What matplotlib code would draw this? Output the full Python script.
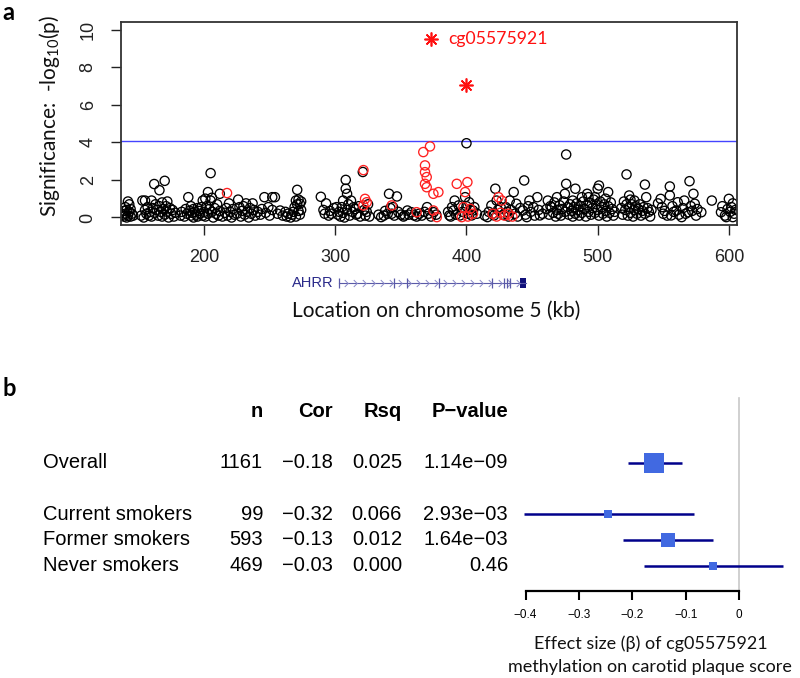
import numpy as np
import matplotlib
matplotlib.use("Agg")
import matplotlib.pyplot as plt
from matplotlib.path import Path

plt.rcParams['font.family'] = ['Liberation Sans', 'DejaVu Sans']
plt.rcParams['mathtext.fontset'] = 'custom'
plt.rcParams['mathtext.rm'] = 'Lato'
plt.rcParams['mathtext.it'] = 'Lato:italic'

# ---- panel a: regional association (kb, -log10 p) ----
black_pts = [
    (138, 0.15), (139, 0.35), (139, 0.05), (140, 0.55), (140, 0.2), (141, 0.0), (141, 0.4), (142, 0.85),
    (142, 0.1), (143, 0.7), (143, 0.3), (144, 0.05), (144, 0.45), (145, 0.2), (146, 0.1),
    (152, 0.1), (153, 0.9), (154, 0.0), (155, 0.4), (155, 0.9), (156, 0.2), (157, 0.55), (158, 0.1),
    (159, 0.3), (160, 0.9), (160, 0.05), (161, 0.5), (162, 1.78), (162, 0.25), (163, 0.7), (164, 0.4),
    (165, 0.1), (166, 1.45), (166, 0.6), (167, 0.3), (168, 0.05), (168, 0.8), (169, 0.45), (170, 1.95),
    (170, 0.15), (171, 0.6), (172, 0.85), (172, 0.3), (173, 0.0), (174, 0.5), (175, 0.2), (176, 0.4),
    (177, 0.05), (178, 0.25),
    (182, 0.1), (183, 0.3), (185, 0.05), (186, 0.45), (187, 0.2), (188, 1.08), (189, 0.35), (190, 0.1),
    (190, 0.6), (191, 0.25), (192, 0.45), (192, 0.0), (193, 0.3), (194, 0.15), (195, 0.5), (195, 0.05),
    (196, 0.35), (197, 0.2), (198, 0.55), (199, 0.9), (199, 0.1),
    (200, 0.3), (201, 1.0), (201, 0.05), (202, 0.6), (203, 1.35), (203, 0.2), (204, 0.45), (205, 2.36),
    (205, 0.9), (206, 1.05), (206, 0.3), (207, 0.0), (208, 0.5), (209, 0.2), (210, 0.7), (211, 0.1),
    (212, 1.26), (212, 0.35), (214, 0.05),
    (216, 0.25), (217, 0.5), (218, 0.1), (219, 0.75), (220, 0.3), (221, 0.0), (222, 0.45), (223, 0.15),
    (225, 0.2), (226, 0.95), (227, 0.55), (228, 0.05), (229, 0.35), (230, 0.6), (231, 0.15), (232, 0.75),
    (233, 0.3), (234, 0.0), (235, 0.5), (236, 0.2), (237, 0.75), (238, 0.4), (239, 0.1), (241, 0.3),
    (243, 0.15), (244, 0.45), (246, 1.08), (247, 0.25), (249, 0.55), (250, 0.1), (252, 1.08), (252, 0.4),
    (254, 1.08),
    (256, 0.2), (258, 0.37), (260, 0.1), (262, 0.3), (263, 0.05), (264, 0.2), (266, 0.0), (267, 0.15),
    (268, 0.3), (269, 0.55), (270, 0.05), (270, 0.9), (271, 1.47), (271, 0.7), (272, 0.35), (272, 0.95),
    (273, 0.73), (273, 0.15), (274, 0.85), (274, 0.4),
    (289, 1.1), (291, 0.4), (292, 0.2), (293, 0.75), (295, 0.1), (296, 0.35), (297, 0.2), (299, 0.5),
    (301, 0.55), (302, 0.15), (303, 0.3), (304, 0.05), (305, 0.55), (306, 0.9), (306, 0.25), (307, 0.0),
    (308, 2.0), (308, 1.53), (309, 1.26), (309, 0.4), (310, 0.7), (311, 0.1), (312, 0.9), (313, 0.3),
    (314, 0.55), (315, 0.45), (316, 0.15), (317, 0.2), (318, 0.6), (319, 0.05),
    (321, 2.42), (322, 0.4), (323, 0.1), (324, 0.3), (325, 0.7), (326, 0.05),
    (333, 0.15), (335, 0.02), (337, 0.1), (338, 0.35), (340, 0.2), (341, 1.26), (342, 0.5), (343, 0.2),
    (344, 0.55), (345, 0.1), (347, 1.12), (348, 0.3), (350, 0.15), (352, 0.05), (353, 0.11), (355, 0.37),
    (356, 0.15), (358, 0.28), (360, 0.11), (362, 0.05), (364, 0.2), (366, 0.1), (368, 0.3), (370, 0.55),
    (371, 0.2), (373, 0.05), (375, 0.28), (377, 0.15),
    (386, 0.3), (387, 0.11), (388, 0.05), (389, 0.55), (390, 0.37), (391, 0.9), (392, 0.15), (394, 0.64),
    (395, 0.11), (397, 0.3), (399, 1.08), (400, 3.95), (400, 0.6), (401, 0.2), (402, 0.81), (403, 0.4),
    (404, 0.11), (405, 0.37), (406, 0.55), (408, 0.2),
    (414, 0.1), (416, 0.02), (417, 0.3), (419, 0.64), (420, 0.2), (421, 0.11), (422, 1.53), (423, 0.9),
    (424, 0.4), (426, 0.55), (428, 0.15), (430, 0.55), (431, 0.3), (432, 0.05), (433, 0.9), (434, 0.4),
    (436, 1.35), (437, 0.2), (438, 0.73), (439, 0.05),
    (441, 0.5), (443, 0.37), (444, 1.97), (445, 0.15), (446, 0.02), (447, 0.6), (448, 0.9), (449, 0.3),
    (451, 0.55), (452, 0.1), (454, 1.08), (455, 0.4), (456, 0.11), (458, 0.2),
    (461, 0.45), (462, 0.9), (463, 0.15), (464, 0.6), (465, 0.55), (466, 0.25), (467, 0.8), (468, 0.05),
    (469, 1.08), (469, 0.4), (470, 0.2), (471, 0.65), (472, 0.1), (473, 0.45), (474, 0.85), (475, 1.26),
    (475, 0.3), (476, 3.35), (476, 1.79), (477, 0.55), (478, 0.15), (479, 0.7), (480, 0.35), (481, 0.9),
    (481, 0.05), (482, 0.55), (483, 1.53), (483, 0.2), (484, 0.75), (485, 0.4), (486, 0.1), (487, 0.6),
    (488, 1.08), (488, 0.25), (489, 0.85), (490, 0.45), (491, 0.05), (492, 1.26), (492, 0.65), (493, 1.08),
    (493, 0.3), (494, 0.8), (495, 0.15),
    (496, 0.5), (497, 0.95), (498, 1.08), (498, 0.25), (499, 0.7), (500, 1.53), (500, 0.4), (501, 1.7),
    (501, 0.1), (502, 0.85), (503, 0.55), (504, 0.2), (505, 0.7), (506, 1.0), (506, 0.35), (507, 0.05),
    (508, 1.35), (508, 0.6), (509, 0.25), (510, 0.8), (511, 0.45), (512, 0.1), (513, 0.3),
    (518, 0.5), (519, 0.15), (520, 0.85), (521, 0.4), (522, 2.29), (522, 0.7), (523, 0.1), (524, 1.17),
    (524, 0.55), (525, 0.95), (525, 0.25), (526, 0.7), (527, 0.05), (528, 0.9), (528, 0.4), (529, 0.6),
    (530, 0.2), (531, 0.45), (532, 0.7), (533, 0.1), (534, 0.35), (535, 0.55), (536, 1.75), (536, 0.2),
    (537, 1.08), (538, 0.5), (539, 0.3), (540, 0.05), (541, 0.4),
    (546, 0.75), (548, 0.99), (549, 0.55), (550, 0.2), (551, 0.35), (553, 0.1), (555, 1.65), (555, 1.17),
    (556, 0.11), (557, 0.6), (558, 0.3), (560, 0.37), (561, 0.81), (562, 0.15), (564, 0.02), (565, 0.5),
    (566, 0.9), (567, 0.2), (569, 0.28), (570, 1.93), (571, 0.6), (572, 0.35), (573, 1.26), (574, 0.73),
    (575, 0.1), (576, 0.45), (579, 0.28), (587, 0.9),
    (594, 0.28), (595, 0.6), (597, 0.1), (598, 0.02), (599, 0.45), (600, 0.99), (601, 0.3), (602, 0.55),
    (603, 0.02), (603, 0.75), (604, 0.2), (605, 0.4),
]
red_pts = [
    (217.5, 1.3), (321.5, 2.52), (322.7, 0.99), (324, 0.81), (321.4, 0.64), (343, 0.64), (362, 0.28),
    (367.1, 3.48), (372.2, 3.78), (368.4, 2.77), (368.4, 2.41), (369.7, 2.15), (368.4, 1.79), (369.7, 1.61),
    (374.8, 1.26), (378.6, 1.35), (374.8, 0.37), (377.4, 0.02), (392.6, 1.79), (400.7, 1.88), (399, 1.35),
    (397.7, 0.55), (396.4, 0.02), (402.8, 0.46), (424.4, 1.08), (426.9, 0.9), (420, 0.2), (423, 0.05),
    (426, 0.25), (429, 0.1), (432, 0.2), (435, 0.05), (405, 0.2), (401, 0.05),
]
star_x = [373.3, 400.0]
star_y = [9.47, 7.07]
star_label = "cg05575921"
threshold = 4.05

# AHRR gene model (kb)
gene_start, gene_end = 302.9, 445.4
exon_ticks = [302.9, 344.8, 354.7, 379.1, 419.5, 428.7, 431.0, 433.2]
exon_block = (441.0, 445.4)

# ---- panel b: forest plot ----
groups = ["Overall", "Current smokers", "Former smokers", "Never smokers"]
n_vals = ["1161", "99", "593", "469"]
cor_vals = ["\u22120.18", "\u22120.32", "\u22120.13", "\u22120.03"]
rsq_vals = ["0.025", "0.066", "0.012", "0.000"]
p_vals = ["1.14e\u221209", "2.93e\u221203", "1.64e\u221203", "0.46"]
beta = [-0.159, -0.245, -0.133, -0.049]
ci_lo = [-0.209, -0.403, -0.217, -0.178]
ci_hi = [-0.107, -0.085, -0.050, 0.081]
box_size = [15.0, 5.8, 9.6, 6.4]
rows = [0, 2, 3, 4]

W, H = 800, 678
fig = plt.figure(figsize=(W / 100, H / 100), dpi=100)


def px_axes(x0, y0, x1, y1):
    return fig.add_axes([x0 / W, 1 - y1 / H, (x1 - x0) / W, (y1 - y0) / H])


ax = px_axes(121, 22, 737, 225)
bx, by = zip(*black_pts)
rx, ry = zip(*red_pts)
ax.scatter(bx, by, s=44, facecolors='none', edgecolors='black', linewidths=0.95, zorder=2)
ax.scatter(rx, ry, s=44, facecolors='none', edgecolors='#ff2020', linewidths=0.95, zorder=3)
ax.plot(star_x, star_y, linestyle='none', marker=(8, 2, 0), markersize=10,
        markeredgecolor='#ff1010', markeredgewidth=1.2, zorder=4)
ax.text(star_x[0] + 13, star_y[0], star_label, color='#ff1010', fontsize=12.7,
        family='Lato', va='center', ha='left')
ax.axhline(threshold, color='#4444ff', lw=1.0, zorder=1)
ax.set_xlim(136.7, 606.2)
ax.set_ylim(-0.4, 10.4)
ax.set_xticks([200, 300, 400, 500, 600])
ax.set_yticks([0, 2, 4, 6, 8, 10])
ax.tick_params(direction='out', length=7.5, width=1.0, labelsize=13, pad=10, colors='#222222')
for lab in ax.get_yticklabels():
    lab.set_rotation(90)
    lab.set_va('center')
for sp in ax.spines.values():
    sp.set_color('#333333')
    sp.set_linewidth(1.3)

fig.text(50 / W, 1 - 116 / H, 'Significance:  -log$_{10}$(p)', rotation=90,
         family='Lato', fontsize=15, ha='center', va='center', color='#111111')
fig.text(436 / W, 1 - 311 / H, 'Location on chromosome 5 (kb)', family='Lato',
         fontsize=15, ha='center', va='center', color='#111111')
fig.text(2 / W, 1 - 12 / H, 'a', family='Lato', weight='bold', fontsize=17, ha='left', va='center')
fig.text(2 / W, 1 - 389 / H, 'b', family='Lato', weight='bold', fontsize=17, ha='left', va='center')

# gene track
gx = px_axes(121, 274, 737, 292)
gx.set_xlim(136.7, 606.2)
gx.set_ylim(-1, 1)
gx.axis('off')
gene_col = '#5a5aa8'
gx.plot([gene_start, gene_end], [0, 0], color=gene_col, lw=0.8)
chev = Path([(-0.5, 1), (0.5, 0), (-0.5, -1)], [Path.MOVETO, Path.LINETO, Path.LINETO])
chev_x = np.arange(gene_start + 5, exon_block[0] - 2, 6.9)
gx.plot(chev_x, np.zeros_like(chev_x), linestyle='none', marker=chev, markersize=5,
        markerfacecolor='none', markeredgecolor='#8a8ac8', markeredgewidth=0.7)
gx.vlines(exon_ticks, -0.6, 0.6, color=gene_col, lw=0.9)
gx.fill_between(exon_block, -0.6, 0.6, color='#10107a', lw=0)
gx.text(gene_start - 4.5, 0, 'AHRR', color='#2a2a8a', fontsize=10.5, ha='right', va='center')

# forest plot
row_top, row_bot = -2.6, 4.98
fx = px_axes(500, 395.9, 800, 590.7)
fx.set_xlim(-0.448, 0.1137)
fx.set_ylim(row_bot, row_top)
fx.axvline(0, color='#c8c8c8', lw=1.2, ymin=0, ymax=1 - 0.1 / (row_bot - row_top))
for r, b, lo, hi, sz in zip(rows, beta, ci_lo, ci_hi, box_size):
    fx.plot([lo, hi], [r, r], color='#00008b', lw=1.8, solid_capstyle='butt', zorder=2)
    fx.plot(b, r, marker='s', markersize=sz, color='#4169e1', markeredgewidth=0, zorder=3)
for side in ['top', 'right', 'left']:
    fx.spines[side].set_visible(False)
fx.spines['bottom'].set_bounds(-0.4, 0)
fx.spines['bottom'].set_linewidth(1.6)
fx.set_yticks([])
fx.set_xticks([-0.4, -0.3, -0.2, -0.1, 0])
fx.set_xticklabels(['\u22120.4', '\u22120.3', '\u22120.2', '\u22120.1', '0'])
fx.tick_params(axis='x', direction='out', length=6.5, width=1.5, labelsize=8.5, pad=7)
fx.patch.set_alpha(0)

fig.text(651 / W, 1 - 644 / H, 'Effect size (\u03b2) of cg05575921', family='Lato',
         fontsize=13, ha='center', va='center', color='#111111')
fig.text(650 / W, 1 - 667 / H, 'methylation on carotid plaque score', family='Lato',
         fontsize=13, ha='center', va='center', color='#111111')

# table
tx = px_axes(0, 395.9, 500, 590.7)
tx.set_xlim(0, 500)
tx.set_ylim(row_bot, row_top)
tx.axis('off')
col_right = [263, 333, 402, 508]
headers = ['n', 'Cor', 'Rsq', 'P\u2212value']
for xr, h in zip(col_right, headers):
    tx.text(xr, -2, h, ha='right', va='center', fontsize=14.5, weight='bold', clip_on=False)
for r, g, n, c, q, p in zip(rows, groups, n_vals, cor_vals, rsq_vals, p_vals):
    tx.text(43, r, g, ha='left', va='center', fontsize=14.5, clip_on=False)
    for xr, v in zip(col_right, [n, c, q, p]):
        tx.text(xr, r, v, ha='right', va='center', fontsize=14.5, clip_on=False)

fig.savefig('out.png', dpi=100)
